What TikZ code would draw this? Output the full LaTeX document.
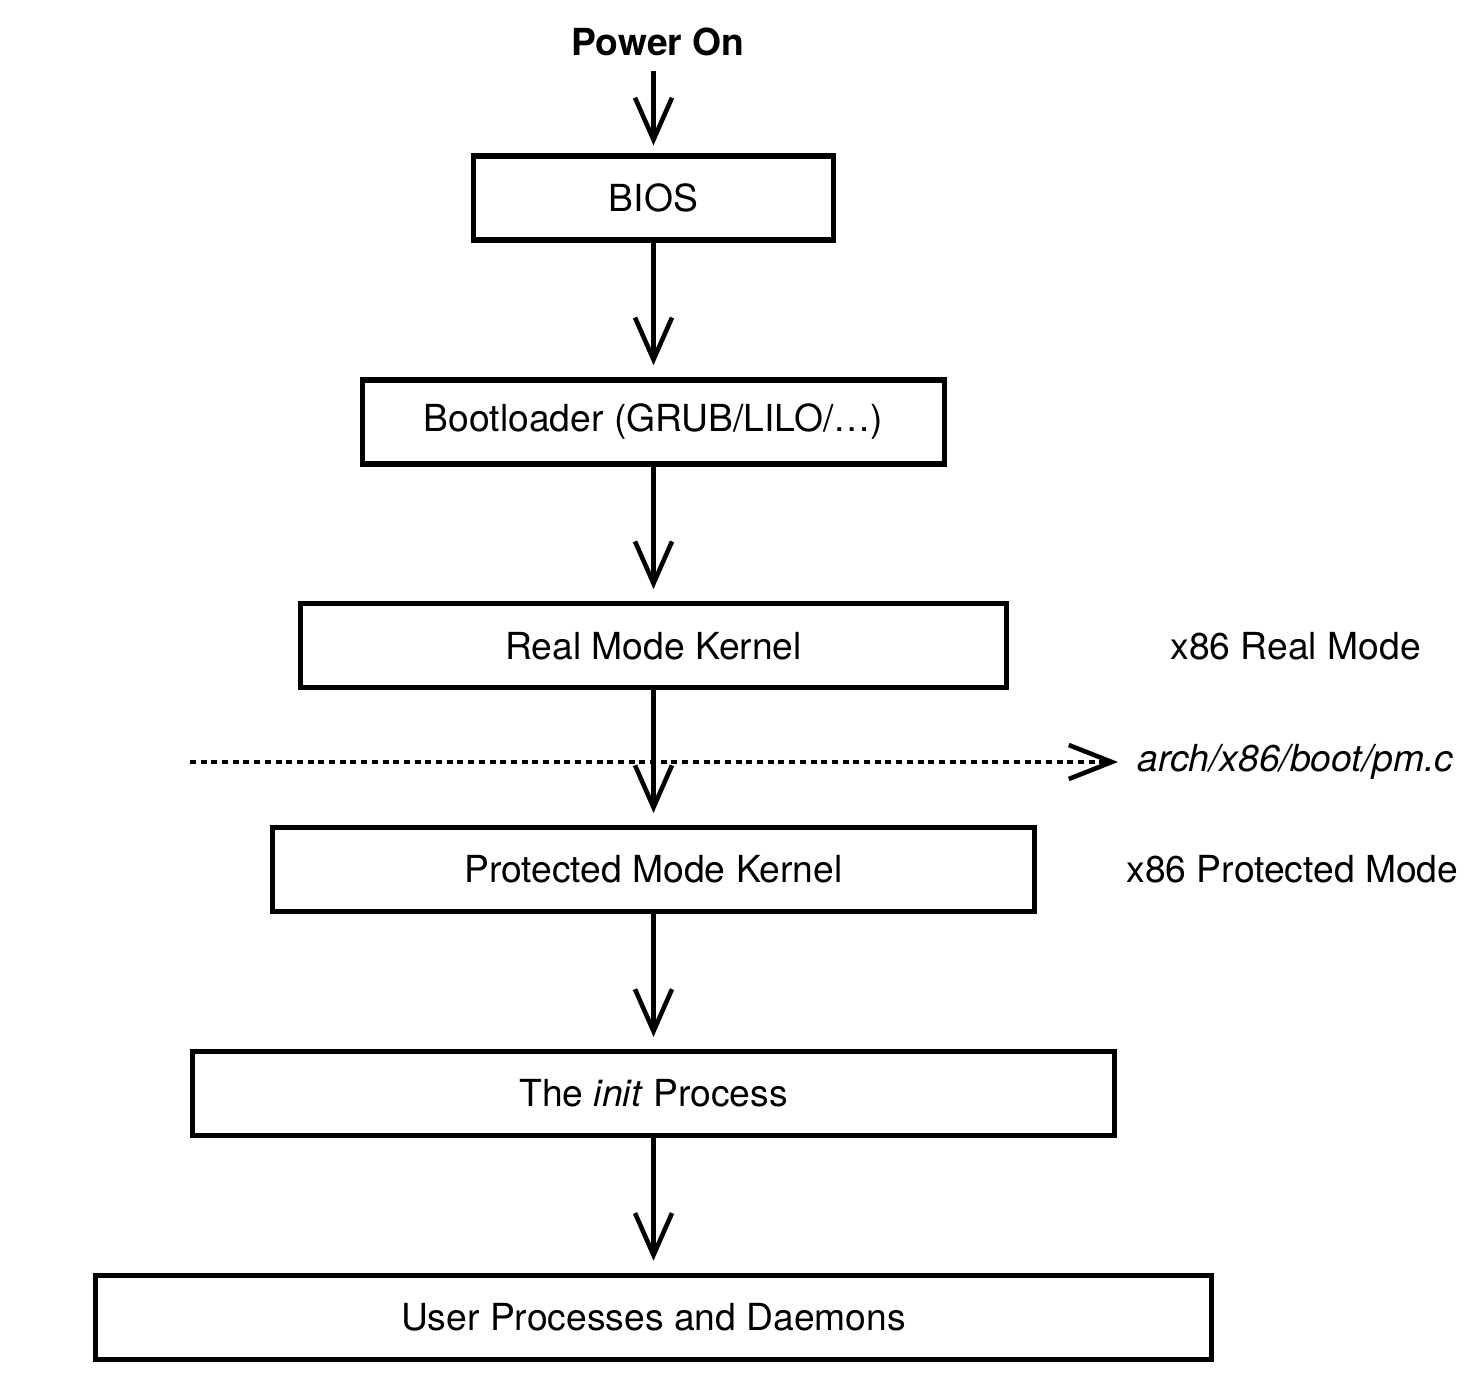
\documentclass[tikz,border=0pt]{standalone}
\usepackage{fontspec}
\setmainfont{TeX Gyre Heros}
\usepackage{tikz}
\usetikzlibrary{positioning}
\usetikzlibrary{arrows.meta}
\tikzset{box/.style={draw,line width=1.5pt,minimum height=0.84cm,inner sep=0pt}}
\tikzset{flow/.style={line width=1.2pt,-{Straight Barb[length=0.42cm,width=0.37cm,line width=1.3pt]}}}
\tikzset{modeline/.style={line width=1.1pt,dash pattern=on 0.06cm off 0.047cm}}
\tikzset{note/.style={font=\fontsize{10.6}{12}\selectfont}}

\begin{document}
\begin{tikzpicture}[note,node distance=1.346cm]
\useasboundingbox (0,0) rectangle (14.72,-13.80);
\node[font=\fontsize{10.6}{12}\selectfont\bfseries] (power) at (6.58,-0.42) {Power On};
\node[box,minimum width=3.60cm] (bios) at (6.535,-1.98) {BIOS};
\node[box,minimum width=5.82cm,below=of bios] (boot) {Bootloader (GRUB/LILO/\dots)};
\node[box,minimum width=7.06cm,below=of boot] (rmk) {Real Mode Kernel};
\node[box,minimum width=7.62cm,below=of rmk] (pmk) {Protected Mode Kernel};
\node[box,minimum width=9.22cm,below=of pmk] (init) {The \textit{init} Process};
\node[box,minimum width=11.16cm,below=of init] (user) {User Processes and Daemons};
% mode labels
\node[right=1.49cm of rmk] (real) {x86 Real Mode};
\node[right=0.77cm of pmk] (prot) {x86 Protected Mode};
\coordinate (sw) at (1.90,-7.62);
\node[anchor=west] (pm) at (11.25,-7.62) {\textit{arch/x86/boot/pm.c}};
\draw[modeline,-{Straight Barb[length=0.43cm,width=0.34cm,line width=1.3pt,sep=0pt]}] (sw) -- ([xshift=-0.07cm]pm.west);
% boot sequence
\draw[flow,shorten <=0.03cm,shorten >=0.08cm] (power.south -| bios.north) -- (bios.north);
\draw[flow,shorten >=0.12cm] (bios) -- (boot);
\draw[flow,shorten >=0.12cm] (boot) -- (rmk);
\draw[flow,shorten >=0.12cm] (rmk) -- (pmk);
\draw[flow,shorten >=0.12cm] (pmk) -- (init);
\draw[flow,shorten >=0.12cm] (init) -- (user);
\end{tikzpicture}
\end{document}
